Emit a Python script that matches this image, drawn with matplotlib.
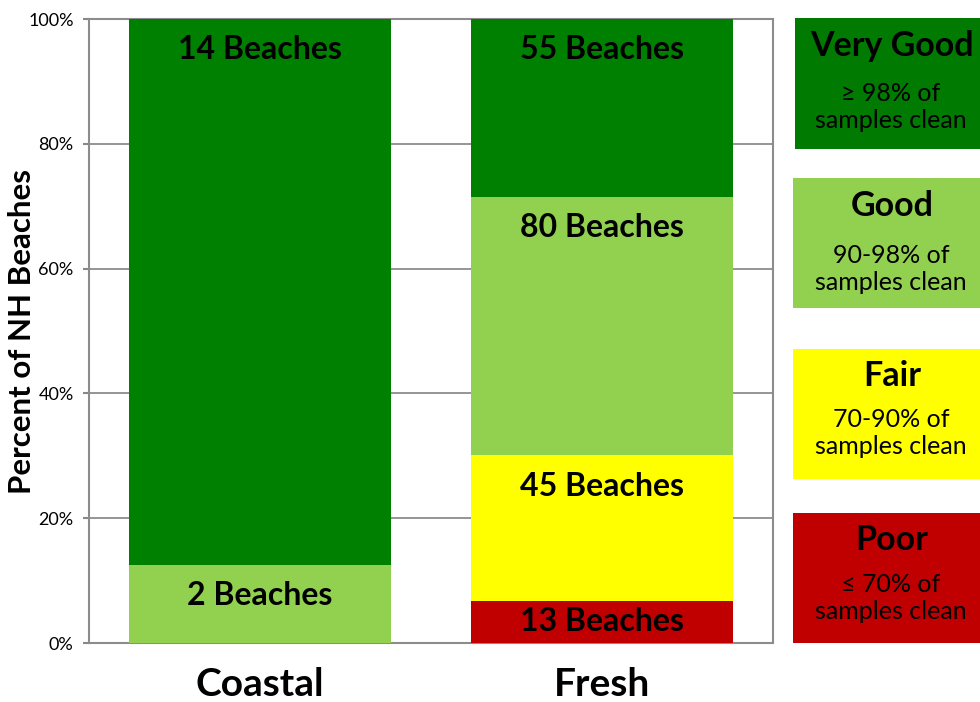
import matplotlib
matplotlib.use("Agg")
import matplotlib.pyplot as plt
from matplotlib.patches import Rectangle

# ---- data ----
categories = ["Coastal", "Fresh"]
ratings = ["Poor", "Fair", "Good", "Very Good"]
counts = {
    "Poor":      [0, 13],
    "Fair":      [0, 45],
    "Good":      [2, 80],
    "Very Good": [14, 55],
}
colors = {"Poor": "#C00000", "Fair": "#FFFF00", "Good": "#92D050", "Very Good": "#008000"}
legend_titles = ["Very Good", "Good", "Fair", "Poor"]
legend_desc = ["\u2265 98% of\nsamples clean", "90-98% of\nsamples clean",
               "70-90% of\nsamples clean", "\u2264 70% of\nsamples clean"]
legend_colors = ["#007A00", "#92D050", "#FFFF00", "#C00000"]
yticks = [0, 20, 40, 60, 80, 100]
ytick_labels = ["0%", "20%", "40%", "60%", "80%", "100%"]

plt.rcParams['font.family'] = ['Lato', 'DejaVu Sans']

W, H = 980, 702
fig = plt.figure(figsize=(W / 100, H / 100), dpi=100)
ax = fig.add_axes([89 / W, 1 - 643 / H, (773 - 89) / W, (643 - 19) / H])

totals = [sum(counts[r][i] for r in ratings) for i in range(len(categories))]
x = list(range(len(categories)))
bottoms = [0.0] * len(categories)
for r in ratings:
    pct = [counts[r][i] / totals[i] * 100 for i in range(len(categories))]
    ax.bar(x, pct, bottom=bottoms, width=0.767, color=colors[r], zorder=3)
    for i in range(len(categories)):
        if counts[r][i] > 0:
            top = bottoms[i] + pct[i]
            ly = max(top - 4.9, bottoms[i] + pct[i] / 2)
            ax.text(x[i], ly, f"{counts[r][i]} Beaches", ha="center", va="center",
                    fontsize=23, fontweight="bold", color="black", zorder=4)
    bottoms = [bottoms[i] + pct[i] for i in range(len(categories))]

ax.set_xlim(-0.5, 1.5)
ax.set_ylim(0, 100)
ax.set_yticks(yticks)
ax.set_yticklabels(ytick_labels, fontsize=13)
ax.set_xticks(x)
ax.set_xticklabels(categories, fontsize=28, fontweight="bold")
ax.tick_params(axis="x", length=0, pad=17)
ax.tick_params(axis="y", length=4, color="#888888", width=1.5, pad=7)
ax.yaxis.grid(True, color="#8C8C8C", linewidth=1.3, zorder=0)
for s in ax.spines.values():
    s.set_color("#8C8C8C")
    s.set_linewidth(1.5)
ax.set_ylabel("Percent of NH Beaches", fontsize=22.5, fontweight="bold")
ax.yaxis.set_label_coords(-0.078, 0.5)

# ---- legend boxes ----
boxes = [(795, 18, 149), (793, 178, 308), (793, 349, 479), (793, 513, 643)]
title_y = [46, 206, 376, 540]
desc_y = [107, 269, 433, 598]
for k in range(4):
    x0, y0, y1 = boxes[k]
    fig.add_artist(Rectangle((x0 / W, 1 - y1 / H), (W - x0) / W, (y1 - y0) / H,
                             transform=fig.transFigure, facecolor=legend_colors[k],
                             edgecolor="none"))
    fig.text(892 / W, 1 - title_y[k] / H, legend_titles[k], ha="center", va="center",
             fontsize=24.5, fontweight="bold", color="black")
    fig.text(891 / W, 1 - desc_y[k] / H, legend_desc[k], ha="center", va="center",
             fontsize=18, color="black", linespacing=1.2)

fig.savefig("out.png", dpi=100)
